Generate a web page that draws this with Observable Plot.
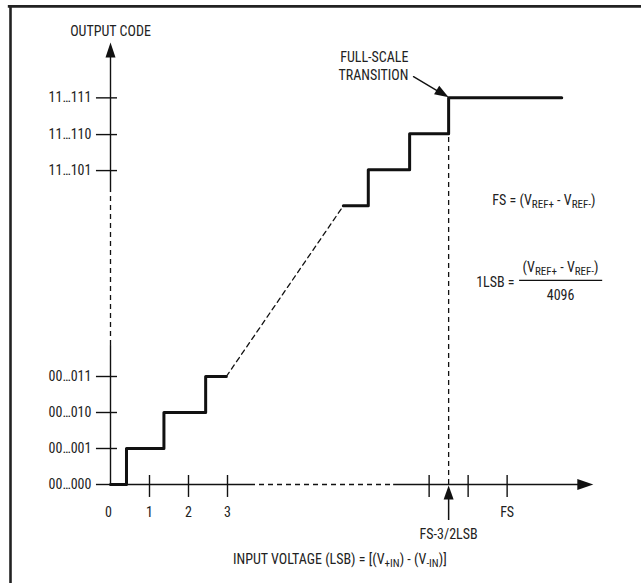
<!DOCTYPE html>
<html><head><meta charset="utf-8">
<script src="https://cdn.jsdelivr.net/npm/d3@7"></script>
<script src="https://cdn.jsdelivr.net/npm/@observablehq/plot@0.6"></script>
<style>body{margin:0;background:#fff}</style>
</head><body><div id="chart"></div>
<script>
// ---- data (x in LSB, y in code index) ----
const FS = 10.17;
const codeLabels = ["00…000", "00…001", "00…010", "00…011", "11…101", "11…110", "11…111"];
const codeValues = [0, 1, 2, 3, 8.72, 9.72, 10.74];
const xTickLabels = ["0", "1", "2", "3", "FS"];
const xTickLabelValues = [-0.05, 1, 2, 3, FS];
const xTickValues = [1, 2, 3, FS - 2, FS - 1, FS];
const lowerStepX = [0, 0.41, 1.37, 2.44, 2.97];
const lowerStepY = [0, 1, 2, 3, 3];
const upperStepX = [FS - 4.2, FS - 3.56, FS - 2.5, FS - 1.5, FS + 1.4];
const upperStepY = [7.74, 8.74, 9.74, 10.74, 10.74];
const transitionX = FS - 1.5;

const font = "'Liberation Sans Narrow', 'Roboto Condensed', 'DejaVu Sans Condensed', Roboto, sans-serif";
const ink = "#111";
const textInk = "#222";
const fs = 14;

function arrowSymbol(angleDeg, L, W) {
  const a = angleDeg * Math.PI / 180;
  const ux = Math.sin(a), uy = -Math.cos(a);
  const px = -uy, py = ux;
  return {
    draw(ctx) {
      ctx.moveTo(0, 0);
      ctx.lineTo(-ux * L + px * W, -uy * L + py * W);
      ctx.lineTo(-ux * L - px * W, -uy * L - py * W);
      ctx.closePath();
    }
  };
}

const lower = lowerStepX.map((x, i) => ({x, y: lowerStepY[i]}));
const upper = upperStepX.map((x, i) => ({x, y: upperStepY[i]}));
const codes = codeLabels.map((label, i) => ({label, value: codeValues[i]}));
const xLabels = xTickLabels.map((label, i) => ({label, value: xTickLabelValues[i]}));

const solid = {stroke: ink, strokeWidth: 1.4};
const dashed = {stroke: ink, strokeWidth: 1.3, strokeDasharray: "5,4"};
const txt = {fontSize: fs, fill: textInk};

const plot = Plot.plot({
  width: 641, height: 583, margin: 0,
  x: {domain: [-110 / 39, 531 / 39], axis: null},
  y: {domain: [-99 / 36, 484 / 36], axis: null},
  style: {fontFamily: font, fontSize: fs + "px", color: textInk, background: "#fff"},
  marks: [
    // frame (top and left edges)
    Plot.ruleY([13.28], {x1: -2.62, x2: 13.7, stroke: "#222", strokeWidth: 2.6}),
    Plot.ruleX([-2.564], {y1: -2.8, y2: 13.3, stroke: "#222", strokeWidth: 2.6}),
    // y axis
    Plot.ruleX([0], {y1: 0, y2: 3.86, ...solid}),
    Plot.ruleX([0], {y1: 3.86, y2: 8.11, ...dashed}),
    Plot.ruleX([0], {y1: 8.11, y2: 11.95, ...solid}),
    Plot.dot([{x: 0, y: 12.28}], {x: "x", y: "y", symbol: arrowSymbol(0, 15, 5), fill: ink, stroke: "none"}),
    // x axis
    Plot.ruleY([0], {x1: 0, x2: 3.59, ...solid}),
    Plot.ruleY([0], {x1: 3.59, x2: 7.26, ...dashed}),
    Plot.ruleY([0], {x1: 7.26, x2: 12.0, ...solid}),
    Plot.dot([{x: 12.38, y: 0}], {x: "x", y: "y", symbol: arrowSymbol(90, 16, 5.5), fill: ink, stroke: "none"}),
    // ticks
    Plot.ruleY(codeValues, {x1: -0.36, x2: 0.18, ...solid}),
    Plot.ruleX(xTickValues, {y1: -0.36, y2: 0.25, ...solid}),
    // dashed guides
    Plot.line([lower[lower.length - 1], upper[0]], {x: "x", y: "y", ...dashed}),
    Plot.ruleX([transitionX], {y1: 0, y2: 9.74, ...dashed}),
    // staircase
    Plot.line(lower, {x: "x", y: "y", curve: "step-after", stroke: ink, strokeWidth: 3}),
    Plot.line(upper, {x: "x", y: "y", curve: "step-after", stroke: ink, strokeWidth: 3}),
    // FS-3/2LSB arrow
    Plot.ruleX([transitionX], {y1: -1.0, y2: -0.3, stroke: ink, strokeWidth: 1.5}),
    Plot.dot([{x: transitionX, y: -0.03}], {x: "x", y: "y", symbol: arrowSymbol(0, 14, 5), fill: ink, stroke: "none"}),
    // full-scale transition arrow
    Plot.line([{x: 7.77, y: 11.33}, {x: 8.5, y: 10.86}], {x: "x", y: "y", stroke: ink, strokeWidth: 1.4}),
    Plot.dot([{x: transitionX, y: 10.76}], {x: "x", y: "y", symbol: arrowSymbol(121, 14, 5), fill: ink, stroke: "none"}),
    // labels
    Plot.text(codes, {x: -0.49, y: "value", text: "label", textAnchor: "end", ...txt}),
    Plot.text(xLabels, {x: "value", y: -0.78, text: "label", ...txt}),
    Plot.text(["OUTPUT CODE"], {x: 0, y: 12.58, text: d => d, ...txt}),
    Plot.text(["FULL-SCALE"], {x: 7.64, y: 11.86, text: d => d, textAnchor: "end", ...txt}),
    Plot.text(["TRANSITION"], {x: 7.64, y: 11.36, text: d => d, textAnchor: "end", ...txt}),
    Plot.text(["FS-3/2LSB"], {x: transitionX, y: -1.39, text: d => d, ...txt}),
    Plot.text(["INPUT VOLTAGE (LSB) = [(V_{+IN}) - (V_{-IN})]"], {x: 5.88, y: -2.08, text: d => d, ...txt}),
    Plot.text(["FS = (V_{REF+} - V_{REF-})"], {x: 9.79, y: 7.89, text: d => d, textAnchor: "start", ...txt}),
    Plot.text(["1LSB ="], {x: 10.36, y: 5.61, text: d => d, textAnchor: "end", ...txt}),
    Plot.text(["(V_{REF+} - V_{REF-})"], {x: 11.54, y: 6.03, text: d => d, ...txt}),
    Plot.ruleY([5.67], {x1: 10.49, x2: 12.62, stroke: ink, strokeWidth: 1.1}),
    Plot.text(["4096"], {x: 11.54, y: 5.25, text: d => d, ...txt})
  ]
});

// subscripts: turn "_{...}" into lowered, smaller tspans
plot.querySelectorAll("text").forEach(t => {
  const s = t.textContent;
  if (!s.includes("_{")) return;
  while (t.firstChild) t.removeChild(t.firstChild);
  const re = /_\{([^}]*)\}/g;
  let last = 0, m, shifted = false;
  const ns = "http://www.w3.org/2000/svg";
  while ((m = re.exec(s))) {
    const a = document.createElementNS(ns, "tspan");
    a.textContent = s.slice(last, m.index);
    if (shifted) a.setAttribute("dy", "-3.5");
    t.appendChild(a);
    const b = document.createElementNS(ns, "tspan");
    b.textContent = m[1];
    b.setAttribute("dy", "3.5");
    b.setAttribute("font-size", "11");
    t.appendChild(b);
    shifted = true;
    last = re.lastIndex;
  }
  const c = document.createElementNS(ns, "tspan");
  c.textContent = s.slice(last);
  if (shifted) c.setAttribute("dy", "-3.5");
  t.appendChild(c);
});

document.getElementById("chart").appendChild(plot);
</script>
</body></html>
